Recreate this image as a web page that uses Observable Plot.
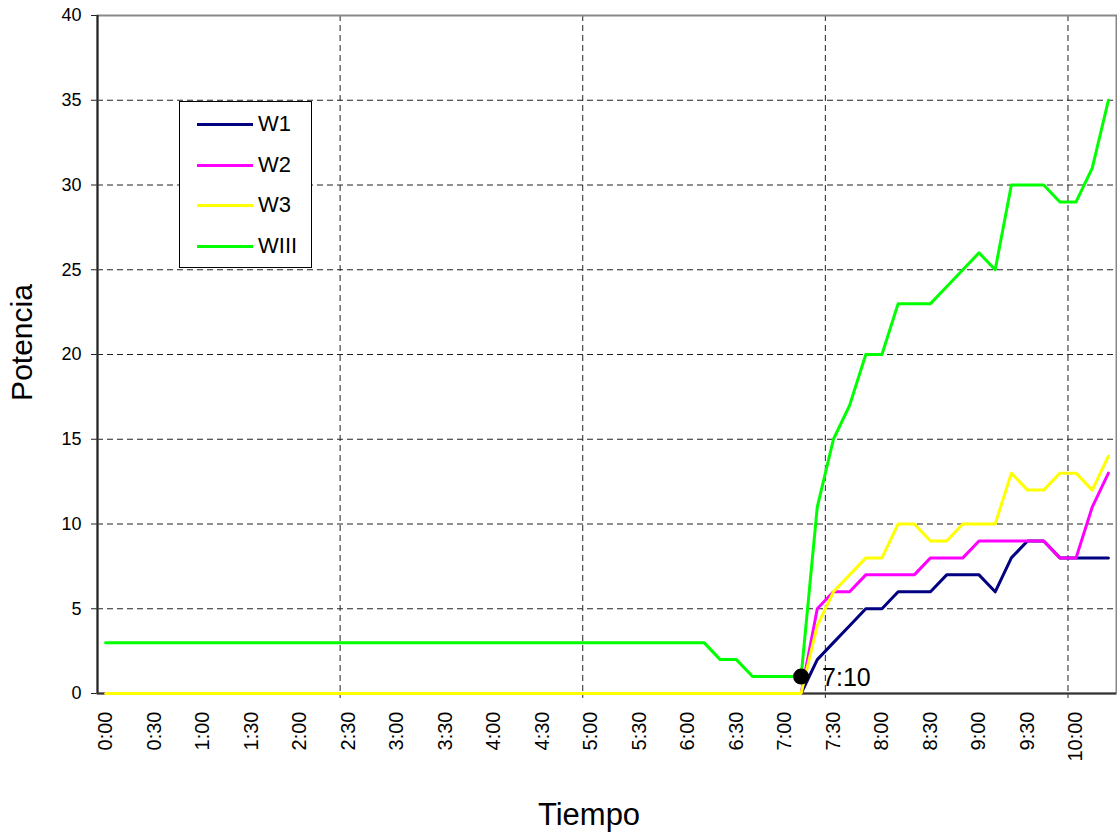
<!DOCTYPE html>
<html>
<head>
<meta charset="utf-8">
<script src="https://cdn.jsdelivr.net/npm/d3@7"></script>
<script src="https://cdn.jsdelivr.net/npm/@observablehq/plot@0.6"></script>
<style>
  html, body { margin: 0; padding: 0; background: #fff; }
  #wrap { position: relative; width: 1117px; height: 836px; font-family: "Liberation Sans", Arial, sans-serif; }
  #legend { position: absolute; left: 179px; top: 101px; width: 131px; height: 165px; border: 1px solid #000; background: #fff; }
  .row { position: absolute; left: 0; height: 0; }
  .row .sw { position: absolute; left: 17px; width: 56px; height: 3px; top: -1px; }
  .row .lb { position: absolute; left: 78px; top: -13px; font-size: 22px; line-height: 26px; color: #000; white-space: nowrap; }
</style>
</head>
<body>
<div id="wrap"></div>
<script>
// Categories (time of day, 10‑minute steps)
const times = ["0:00","0:10","0:20","0:30","0:40","0:50","1:00","1:10","1:20","1:30","1:40","1:50",
  "2:00","2:10","2:20","2:30","2:40","2:50","3:00","3:10","3:20","3:30","3:40","3:50",
  "4:00","4:10","4:20","4:30","4:40","4:50","5:00","5:10","5:20","5:30","5:40","5:50",
  "6:00","6:10","6:20","6:30","6:40","6:50","7:00","7:10","7:20","7:30","7:40","7:50",
  "8:00","8:10","8:20","8:30","8:40","8:50","9:00","9:10","9:20","9:30","9:40","9:50",
  "10:00","10:10","10:20"];

// Series values
const w1 = [0,0,0,0,0,0,0,0,0,0,0,0,0,0,0,0,0,0,0,0,0,0,0,0,0,0,0,0,0,0,0,0,0,0,0,0,0,0,0,0,0,0,0,0,
  2,3,4,5,5,6,6,6,7,7,7,6,8,9,9,8,8,8,8];
const w2 = [0,0,0,0,0,0,0,0,0,0,0,0,0,0,0,0,0,0,0,0,0,0,0,0,0,0,0,0,0,0,0,0,0,0,0,0,0,0,0,0,0,0,0,0,
  5,6,6,7,7,7,7,8,8,8,9,9,9,9,9,8,8,11,13];
const w3 = [0,0,0,0,0,0,0,0,0,0,0,0,0,0,0,0,0,0,0,0,0,0,0,0,0,0,0,0,0,0,0,0,0,0,0,0,0,0,0,0,0,0,0,0,
  4,6,7,8,8,10,10,9,9,10,10,10,13,12,12,13,13,12,14];
const wiii = [3,3,3,3,3,3,3,3,3,3,3,3,3,3,3,3,3,3,3,3,3,3,3,3,3,3,3,3,3,3,3,3,3,3,3,3,3,3,
  2,2,1,1,1,1,
  11,15,17,20,20,23,23,23,24,25,26,25,30,30,30,29,29,31,35];

const seriesNames = ["W1", "W2", "W3", "WIII"];
const seriesColors = ["#000080", "#FF00FF", "#FFFF00", "#00FF00"];
const seriesValues = [w1, w2, w3, wiii];

const yTicks = [0, 5, 10, 15, 20, 25, 30, 35, 40];
const labelEvery = 3;      // a time label every 30 minutes
const gridEvery = 15;      // a vertical gridline every 2.5 hours
const markerTime = "7:10";
const xTitle = "Tiempo";
const yTitle = "Potencia";

const data = seriesNames.flatMap((name, s) =>
  seriesValues[s].map((v, i) => ({series: name, i, time: times[i], value: v})));

const idx = times.map((t, i) => i);
const labelTicks = idx.filter(i => i % labelEvery === 0);
const gridBounds = idx.filter(i => i > 0 && i % gridEvery === 0).map(i => i - 0.5);
const mi = times.indexOf(markerTime);
const marker = [{i: mi, value: wiii[mi], label: markerTime}];

const dash = {stroke: "#222", strokeWidth: 1, strokeDasharray: "6,4"};

const chart = Plot.plot({
  width: 1117,
  height: 836,
  marginLeft: 97,
  marginRight: 1,
  marginTop: 15,
  marginBottom: 143,
  style: {fontFamily: "'Liberation Sans', Arial, sans-serif", background: "#fff", color: "#000"},
  x: {type: "linear", domain: [-0.5, times.length - 0.5], label: null},
  y: {domain: [0, 40], label: null},
  color: {domain: seriesNames, range: seriesColors},
  marks: [
    Plot.ruleY(yTicks.filter(d => d > 0 && d < 40), dash),
    Plot.ruleX(gridBounds, dash),
    Plot.axisX(gridBounds, {tickSize: 5, tickFormat: () => "", stroke: "#222", label: null}),
    Plot.axisX(labelTicks, {tickSize: 0, tickPadding: 18, tickRotate: -90, tickFormat: i => times[i],
      fontSize: 20, label: null}),
    Plot.axisY(yTicks, {tickSize: 6, tickPadding: 10, fontSize: 18, label: null, stroke: "#222"}),
    Plot.frame({stroke: "#888", strokeWidth: 2}),
    Plot.ruleX([-0.5], {stroke: "#222", strokeWidth: 2}),
    Plot.ruleY([0], {stroke: "#333", strokeWidth: 2}),
    Plot.line(data, {x: "i", y: "value", z: "series", stroke: "series", strokeWidth: 3}),
    Plot.dot(marker, {x: "i", y: "value", r: 8, fill: "#000"}),
    Plot.text(marker, {x: "i", y: "value", text: "label", dx: 21, dy: 1, textAnchor: "start", fontSize: 25, fill: "#000"}),
    Plot.text([xTitle], {frameAnchor: "bottom", dx: -18, dy: 131, fontSize: 31, fill: "#000"}),
    Plot.text([yTitle], {frameAnchor: "left", textAnchor: "middle", dx: -75, dy: -12, rotate: -90, fontSize: 30, fill: "#000"})
  ]
});

const wrap = document.getElementById("wrap");
wrap.appendChild(chart);

// Legend box
const legend = document.createElement("div");
legend.id = "legend";
const rowTops = [22, 63, 103, 144];
seriesNames.forEach((name, k) => {
  const row = document.createElement("div");
  row.className = "row";
  row.style.top = rowTops[k] + "px";
  const sw = document.createElement("div");
  sw.className = "sw";
  sw.style.background = seriesColors[k];
  const lb = document.createElement("div");
  lb.className = "lb";
  lb.textContent = name;
  row.appendChild(sw);
  row.appendChild(lb);
  legend.appendChild(row);
});
wrap.appendChild(legend);
</script>
</body>
</html>
